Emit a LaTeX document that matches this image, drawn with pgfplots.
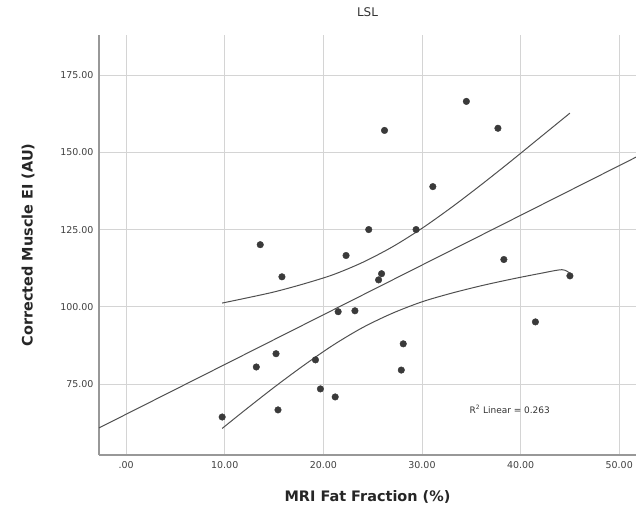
\documentclass[border=0pt]{standalone}
\usepackage{fontspec}
\setmainfont{DejaVu Sans}
\usepackage{pgfplots}
\pgfplotsset{compat=1.18}
\definecolor{ptcol}{HTML}{3A3A3A}
\definecolor{lncol}{HTML}{505050}
\definecolor{grcol}{HTML}{D4D4D4}
\definecolor{axcol}{HTML}{989898}
\begin{document}
\begin{tikzpicture}
\begin{axis}[
  scale only axis, width=537bp, height=420bp,
  xmin=-2.75, xmax=51.7, ymin=52, ymax=188,
  axis x line*=bottom, axis y line*=left,
  axis line style={draw=axcol, line width=1.2bp},
  xtick={0,10,20,30,40,50}, xticklabels={.00,10.00,20.00,30.00,40.00,50.00},
  ytick={75,100,125,150,175}, yticklabels={75.00,100.00,125.00,150.00,175.00},
  grid=major, major grid style={draw=grcol, line width=0.9bp},
  tick style={draw=none},
  ticklabel style={font=\fontsize{9.5}{10}\selectfont, text=black!75},
  xticklabel style={yshift=-3bp},
  yticklabel style={xshift=-2bp},
  /pgf/number format/assume math mode=true,
  xlabel={MRI Fat Fraction (\%)}, ylabel={Corrected Muscle EI (AU)},
  label style={font=\fontsize{14.5}{16}\bfseries\selectfont, text=black!85},
  xlabel style={at={(axis description cs:0.5,-0.1)}, anchor=center},
  ylabel style={at={(axis description cs:-0.1322,0.5)}, anchor=center},
  title={LSL},
  title style={font=\fontsize{12}{13}\selectfont, text=black!80, at={(axis description cs:0.5,1.0405)}, anchor=center},
]
% regression line
\addplot[lncol, line width=1bp] coordinates {(-2.75,60.77) (51.7,148.44)};
% upper confidence band
\addplot[lncol, line width=1bp, smooth] coordinates {
(9.74,101.2) (12,102.7) (15,104.8) (18,107.4) (21,110.4) (24,114.4) (27,119.4)
(30,125.4) (33,132.2) (36,139.5) (39,147.1) (42,154.9) (45,162.7)};
% lower confidence band
\addplot[lncol, line width=1bp, smooth] coordinates {
(9.74,60.6) (12,66.4) (15,73.9) (18,81.0) (21,87.6) (24,93.3) (27,97.9)
(30,101.6) (33,104.4) (36,106.8) (39,108.9) (42,110.8) (44.2,112.0) (45,110.8)};
% data points
\addplot[only marks, mark=*, mark size=3.3bp, mark options={fill=ptcol, draw=ptcol}] coordinates {
(9.74,64.3) (13.2,80.5) (13.6,120.1) (15.2,84.8) (15.4,66.6) (15.8,109.7)
(19.2,82.8) (19.7,73.4) (21.2,70.8) (21.5,98.4) (22.3,116.6) (23.2,98.7)
(24.6,125.0) (25.6,108.7) (25.9,110.7) (26.2,157.1) (27.9,79.5) (28.1,88.0)
(29.4,125.0) (31.1,138.9) (34.5,166.5) (37.7,157.8) (38.3,115.3) (41.5,95.1)
(45.0,110.0)};
\node[font=\fontsize{9}{10}\selectfont, text=black!80] at (axis cs:38.9,66.9) {R\textsuperscript{2} Linear = 0.263};
\end{axis}
\pgfresetboundingbox
\path ([xshift=-99bp,yshift=-59bp]current axis.south west) rectangle ([yshift=35bp]current axis.north east);
\end{tikzpicture}
\end{document}
